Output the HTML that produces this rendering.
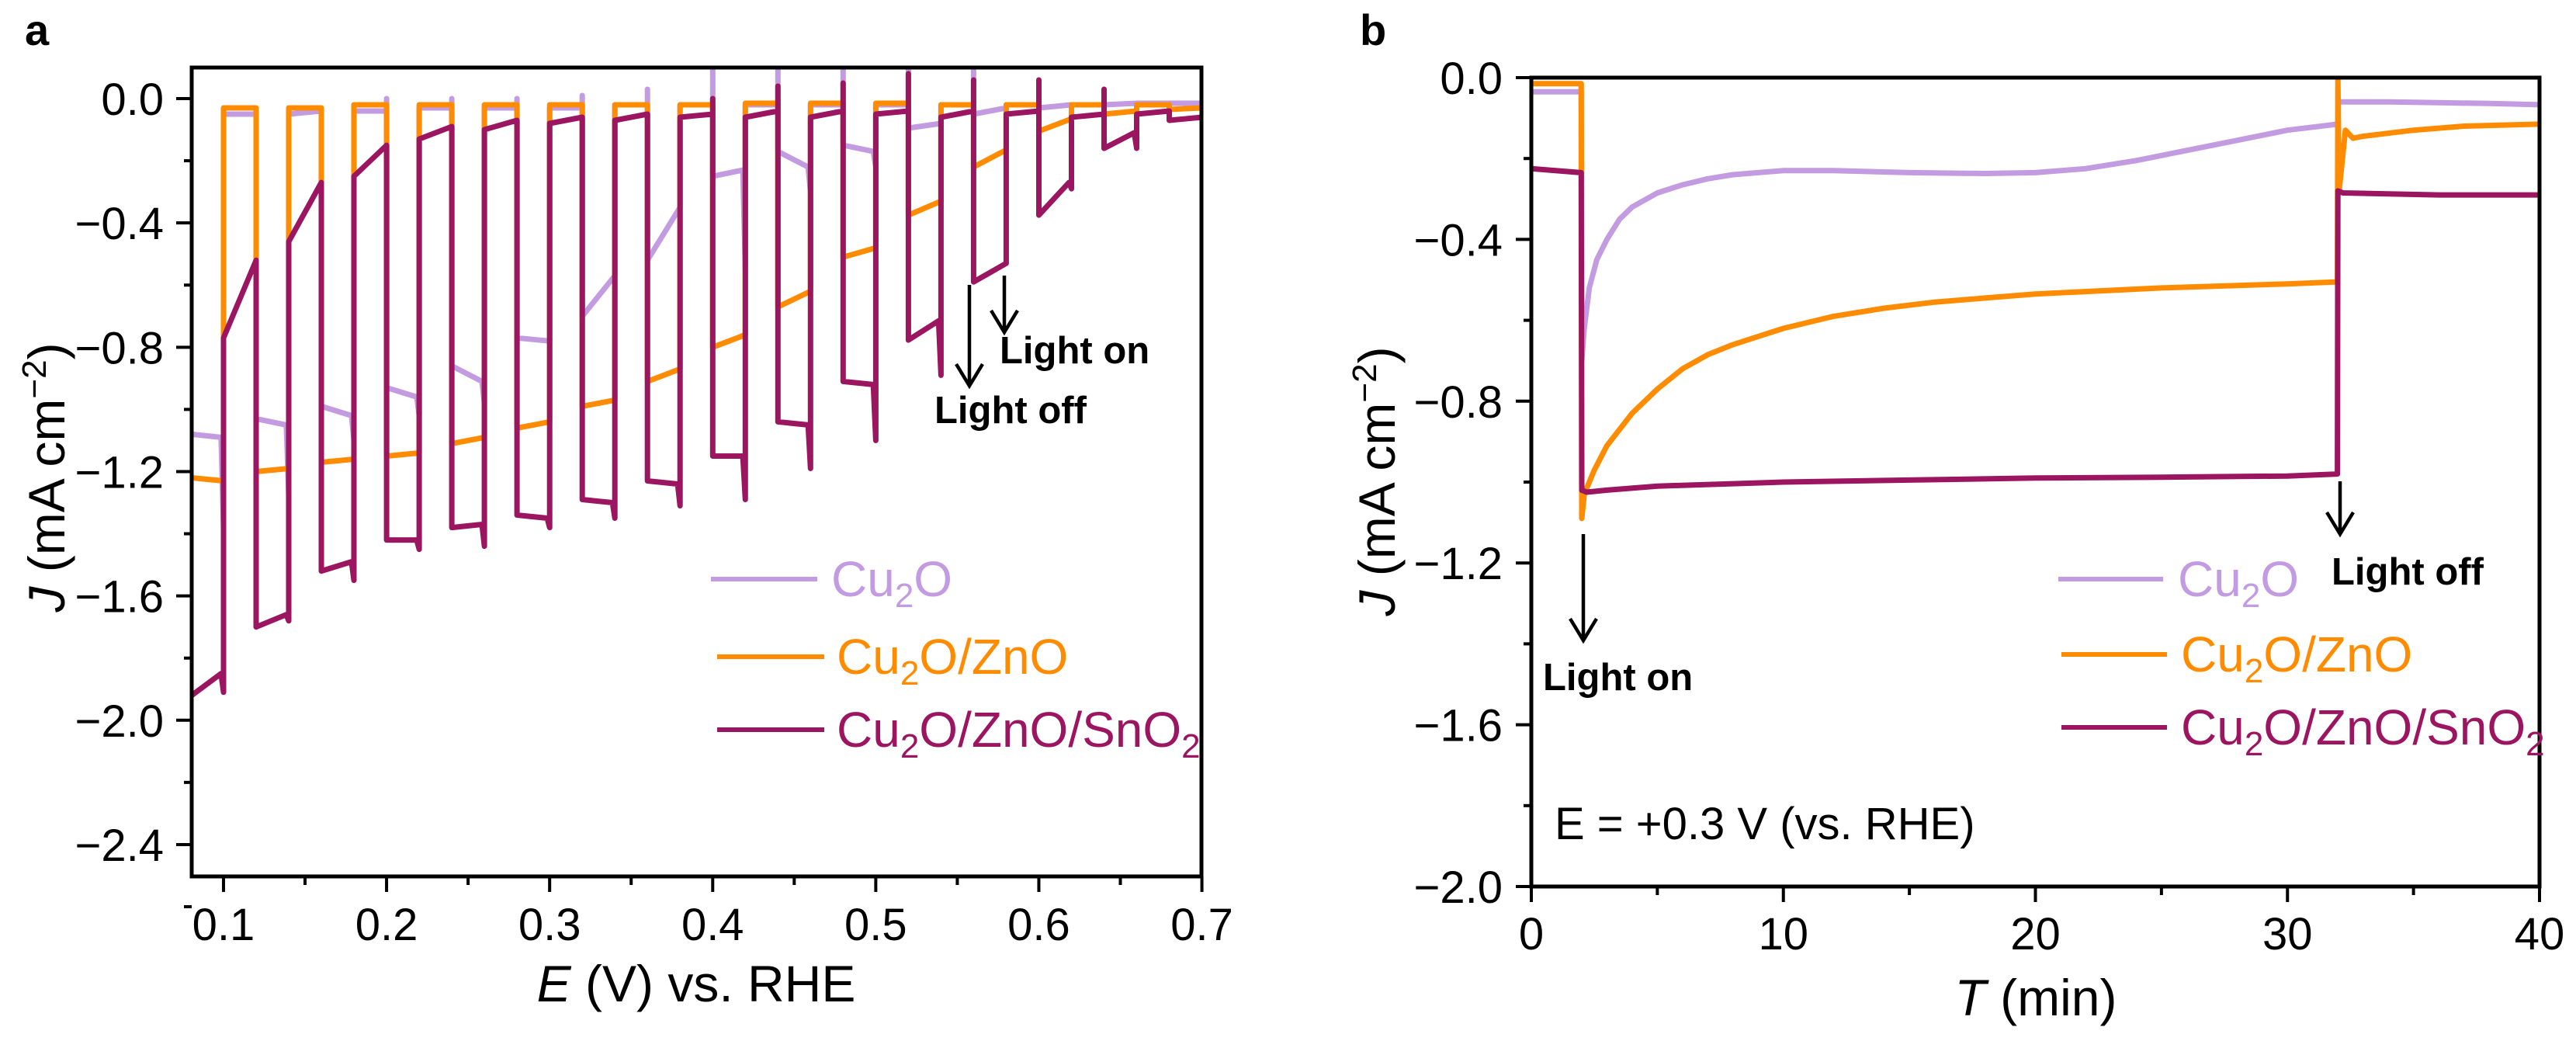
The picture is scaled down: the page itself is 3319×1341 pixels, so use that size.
<!DOCTYPE html>
<html><head><meta charset="utf-8">
<style>
html,body{margin:0;padding:0;background:#fff;}
svg{display:block;font-family:"Liberation Sans",Arial,sans-serif;}
</style></head>
<body>
<svg id="fig" width="3319" height="1341" viewBox="0 0 3319 1341" xmlns="http://www.w3.org/2000/svg">
  <text x="32" y="58" font-size="56" font-weight="bold">a</text>
  <text x="1752" y="58" font-size="56" font-weight="bold">b</text>
  <g id="pa"></g>
  <g id="pb"></g>
</svg>
<script>
// ---------- Panel a data (segments of 0.02 V from 0.08 V; even = light on, odd = dark) ----------
const segStartV = 0.08;
const segWidthV = 0.02;
const cu2oStart   = [-1.08,-0.05,-1.03,-0.05,-0.99,-0.04,-0.93,-0.03,-0.86,-0.03,-0.77,-0.03,-0.70,-0.02,-0.52,-0.02,-0.25,-0.02,-0.17,-0.02,-0.15,-0.02,-0.095,-0.02,-0.05,-0.02,-0.03,-0.02,-0.02,-0.015,-0.015];
const cu2oEnd     = [-1.09,-0.05,-1.05,-0.04,-1.02,-0.04,-0.96,-0.03,-0.91,-0.03,-0.78,-0.03,-0.57,-0.02,-0.35,-0.02,-0.23,-0.02,-0.22,-0.02,-0.17,-0.02,-0.08,-0.02,-0.03,-0.02,-0.02,-0.02,-0.015,-0.015,-0.015];
const cu2oSpike   = [null,null,null,null,null,null,0.0,null,0.0,null,0.0,null,0.01,null,0.03,null,0.1,null,0.1,null,0.1,null,0.1,null,0.09,null,0.0,null,null,null,null];
const cu2oDip     = [-1.38,null,-1.28,null,-1.1,null,-1.02,null,-0.98,null,null,null,null,null,null,null,-0.55,null,-0.3,null,-0.22,null,null,null,null,null,null,null,null,null,null];
const znoStart    = [-1.22,-0.03,-1.20,-0.03,-1.17,-0.02,-1.15,-0.02,-1.11,-0.02,-1.06,-0.02,-0.99,-0.02,-0.91,-0.02,-0.80,-0.015,-0.67,-0.015,-0.51,-0.015,-0.375,-0.02,-0.22,-0.02,-0.105,-0.02,-0.05,-0.02,-0.035];
const znoEnd      = [-1.23,-0.03,-1.19,-0.03,-1.16,-0.02,-1.14,-0.02,-1.09,-0.02,-1.04,-0.02,-0.97,-0.02,-0.87,-0.02,-0.76,-0.015,-0.62,-0.015,-0.48,-0.015,-0.33,-0.02,-0.165,-0.02,-0.065,-0.02,-0.04,-0.02,-0.03];
const snoStart    = [-1.92,-0.77,-1.70,-0.46,-1.52,-0.25,-1.42,-0.13,-1.38,-0.10,-1.34,-0.08,-1.29,-0.07,-1.23,-0.06,-1.15,-0.06,-1.04,-0.06,-0.91,-0.05,-0.777,-0.06,-0.59,-0.05,-0.375,-0.06,-0.16,-0.05,-0.07];
const snoEnd      = [-1.85,-0.52,-1.66,-0.27,-1.49,-0.15,-1.42,-0.09,-1.37,-0.07,-1.35,-0.06,-1.30,-0.05,-1.24,-0.05,-1.15,-0.04,-1.05,-0.04,-0.92,-0.04,-0.715,-0.04,-0.53,-0.04,-0.27,-0.05,-0.11,-0.04,-0.06];
const snoSpike    = [null,null,null,null,null,null,null,null,null,null,null,null,null,null,null,null,0.0,null,0.04,null,0.05,null,0.08,null,0.06,null,0.06,null,0.03,null,null];
const snoDip      = [-1.91,null,-1.68,null,-1.55,null,-1.45,null,-1.44,null,-1.38,null,-1.35,null,-1.31,null,-1.29,null,-1.19,null,-1.10,null,-0.89,null,null,null,-0.29,null,-0.16,null,null];
const aXTicks = [0.1,0.2,0.3,0.4,0.5,0.6,0.7];
const aXTickLabels = ["0.1","0.2","0.3","0.4","0.5","0.6","0.7"];
const aYTicks = [0.0,-0.4,-0.8,-1.2,-1.6,-2.0,-2.4];
const aYTickLabels = ["0.0","\u22120.4","\u22120.8","\u22121.2","\u22121.6","\u22122.0","\u22122.4"];

// ---------- Panel b data ----------
const bCu2oT = [0,1.98,2.0,2.1,2.3,2.6,3,3.5,4,5,6,7,8,10,12,15,18,20,22,24,26,28,30,32,32.02,32.2,34,36,38,40];
const bCu2oJ = [-0.035,-0.035,-0.7,-0.62,-0.52,-0.45,-0.4,-0.35,-0.32,-0.285,-0.265,-0.25,-0.24,-0.23,-0.23,-0.235,-0.237,-0.235,-0.225,-0.205,-0.18,-0.155,-0.13,-0.115,-0.06,-0.06,-0.06,-0.062,-0.064,-0.067];
const bZnoT = [0,1.98,2.0,2.1,2.5,3,4,5,6,7,8,10,12,14,16,18,20,25,30,31.98,32.0,32.05,32.3,32.6,33,35,37,40];
const bZnoJ = [-0.015,-0.015,-1.09,-1.03,-0.97,-0.91,-0.83,-0.77,-0.72,-0.685,-0.66,-0.62,-0.59,-0.57,-0.555,-0.545,-0.535,-0.52,-0.51,-0.505,0.0,-0.28,-0.13,-0.15,-0.145,-0.13,-0.12,-0.115];
const bSnoT = [0,1.98,2.0,2.2,3,5,10,15,20,25,30,31.98,32.0,32.2,36,40];
const bSnoJ = [-0.225,-0.235,-1.02,-1.025,-1.02,-1.01,-1.0,-0.995,-0.99,-0.988,-0.985,-0.98,-0.28,-0.285,-0.29,-0.29];
const bXTicks = [0,10,20,30,40];
const bXTickLabels = ["0","10","20","30","40"];
const bYTicks = [0.0,-0.4,-0.8,-1.2,-1.6,-2.0];
const bYTickLabels = ["0.0","\u22120.4","\u22120.8","\u22121.2","\u22121.6","\u22122.0"];

const NS = "http://www.w3.org/2000/svg";
const C_CU2O = "#c29be0", C_ZNO = "#ff8c00", C_SNO = "#9b1560";
const LW = 7;

function mk(parent, tag, attrs, txt){
  const e = document.createElementNS(NS, tag);
  for (const k in attrs) e.setAttribute(k, attrs[k]);
  if (txt !== undefined) e.textContent = txt;
  parent.appendChild(e);
  return e;
}

// axis functions
const ax = v => 247 + (v - 0.0805) * 2101;
const ay = v => 127 - v * 400.4;
const bx = v => 1973 + v * 32.475;
const by = v => 100 - v * 521;

function segPoints(st, en, sp, dp){
  const pts = [];
  for (let i = 0; i < st.length; i++){
    const x0 = segStartV + i*segWidthV, x1 = x0 + segWidthV;
    const xa = Math.max(x0, 0.0805);
    if (sp[i] !== null) pts.push([ax(xa), ay(sp[i])]);
    pts.push([ax(xa), ay(st[i])]);
    if (dp[i] !== null){
      pts.push([ax(x1 - 0.0015), ay(en[i])]);
      pts.push([ax(x1), ay(dp[i])]);
    } else {
      pts.push([ax(x1), ay(en[i])]);
    }
  }
  return pts.map(p => p[0].toFixed(1)+","+p[1].toFixed(1)).join(" ");
}

// ---------------- Panel A ----------------
const pa = document.getElementById("pa");
const clipA = mk(pa, "clipPath", {id:"clipA"});
mk(clipA, "rect", {x:247, y:87, width:1301, height:1042});
const dataA = mk(pa, "g", {"clip-path":"url(#clipA)"});
const la1 = mk(dataA, "polyline", {points:segPoints(cu2oStart,cu2oEnd,cu2oSpike,cu2oDip), fill:"none", stroke:C_CU2O, "stroke-width":LW, "stroke-linejoin":"round", "stroke-linecap":"round"});


const la2 = mk(dataA, "polyline", {points:segPoints(znoStart,znoEnd,new Array(31).fill(null),new Array(31).fill(null)), fill:"none", stroke:C_ZNO, "stroke-width":LW, "stroke-linejoin":"round", "stroke-linecap":"round"});


const la3 = mk(dataA, "polyline", {points:segPoints(snoStart,snoEnd,snoSpike,snoDip), fill:"none", stroke:C_SNO, "stroke-width":LW, "stroke-linejoin":"round", "stroke-linecap":"round"});



const frameA = mk(pa, "rect", {x:247, y:87, width:1301, height:1042, fill:"none", stroke:"#000", "stroke-width":5});


aXTicks.forEach((v,i)=>{
  const t = mk(pa, "line", {x1:ax(v), x2:ax(v), y1:1129, y2:1149, stroke:"#000", "stroke-width":4});
  
  
  const l = mk(pa, "text", {x:ax(v), y:1211, "font-size":58, "text-anchor":"middle"}, aXTickLabels[i]);
  
  
  if (v < 0.7){
    const m = mk(pa, "line", {x1:ax(v+0.05), x2:ax(v+0.05), y1:1129, y2:1140, stroke:"#000", "stroke-width":4});
    
    
  }
});
aYTicks.forEach((v,i)=>{
  const t = mk(pa, "line", {x1:227, x2:247, y1:ay(v), y2:ay(v), stroke:"#000", "stroke-width":4});
  
  
  const l = mk(pa, "text", {x:211, y:ay(v)+21, "font-size":58, "text-anchor":"end"}, aYTickLabels[i]);
  
  
  const m = mk(pa, "line", {x1:237, x2:247, y1:ay(v-0.2), y2:ay(v-0.2), stroke:"#000", "stroke-width":4});
  
  
});
const xta = mk(pa, "text", {x:897, y:1290, "font-size":66, "text-anchor":"middle"});


xta.innerHTML = '<tspan font-style="italic">E</tspan> (V) vs. RHE';
const yta = mk(pa, "text", {transform:"translate(83,615) rotate(-90)", "font-size":66, "text-anchor":"middle"});


yta.innerHTML = '<tspan font-style="italic">J</tspan> (mA cm<tspan dy="-24" font-size="44">\u22122</tspan><tspan dy="24">)</tspan>';

function arrow(g, x, y1, y2, name){
  const a = mk(g, "g", {});
  
  
  mk(a, "line", {x1:x, x2:x, y1:y1, y2:y2, stroke:"#000", "stroke-width":4.5});
  mk(a, "polyline", {points:`${x-17},${y2-28} ${x},${y2} ${x+17},${y2-28}`, fill:"none", stroke:"#000", "stroke-width":4.5});
}
arrow(pa, 1249, 367, 497, "light-off-arrow-a");
arrow(pa, 1294, 355, 428, "light-on-arrow-a");
const lona = mk(pa, "text", {x:1288, y:468, "font-size":49, "font-weight":"bold"}, "Light on");


const lofa = mk(pa, "text", {x:1204, y:545, "font-size":49, "font-weight":"bold"}, "Light off");



function legend(g, x1, x2, tx, y, color, main, sub, tail, tailSub, name){
  const e = mk(g, "g", {});
  
  
  mk(e, "line", {x1:x1, x2:x2, y1:y, y2:y, stroke:color, "stroke-width":6});
  const t = mk(e, "text", {x:tx, y:y+22, "font-size":64, fill:color});
  let h = main + '<tspan dy="14" font-size="44">' + sub + '</tspan><tspan dy="-14">' + tail + '</tspan>';
  if (tailSub) h += '<tspan dy="14" font-size="44">' + tailSub + '</tspan>';
  t.innerHTML = h;
}
legend(pa, 916, 1053, 1071, 746, C_CU2O, "Cu", "2", "O", "", "legend-cu2o-a");
legend(pa, 924, 1062, 1078, 846, C_ZNO, "Cu", "2", "O/ZnO", "", "legend-cu2o-zno-a");
legend(pa, 924, 1062, 1078, 940, C_SNO, "Cu", "2", "O/ZnO/SnO", "2", "legend-cu2o-zno-sno2-a");

// ---------------- Panel B ----------------
const pb = document.getElementById("pb");
const clipB = mk(pb, "clipPath", {id:"clipB"});
mk(clipB, "rect", {x:1973, y:100, width:1299, height:1042});
const dataB = mk(pb, "g", {"clip-path":"url(#clipB)"});
function pts(ts, js){ return ts.map((t,i)=>bx(t).toFixed(1)+","+by(js[i]).toFixed(1)).join(" "); }
const lb1 = mk(dataB, "polyline", {points:pts(bCu2oT,bCu2oJ), fill:"none", stroke:C_CU2O, "stroke-width":LW, "stroke-linejoin":"round"});


const lb2 = mk(dataB, "polyline", {points:pts(bZnoT,bZnoJ), fill:"none", stroke:C_ZNO, "stroke-width":LW, "stroke-linejoin":"round"});


const lb3 = mk(dataB, "polyline", {points:pts(bSnoT,bSnoJ), fill:"none", stroke:C_SNO, "stroke-width":LW, "stroke-linejoin":"round"});



const frameB = mk(pb, "rect", {x:1973, y:100, width:1299, height:1042, fill:"none", stroke:"#000", "stroke-width":5});


bXTicks.forEach((v,i)=>{
  const t = mk(pb, "line", {x1:bx(v), x2:bx(v), y1:1142, y2:1162, stroke:"#000", "stroke-width":4});
  
  
  const l = mk(pb, "text", {x:bx(v), y:1223, "font-size":58, "text-anchor":"middle"}, bXTickLabels[i]);
  
  
  if (v < 40){
    const m = mk(pb, "line", {x1:bx(v+5), x2:bx(v+5), y1:1142, y2:1153, stroke:"#000", "stroke-width":4});
    
    
  }
});
bYTicks.forEach((v,i)=>{
  const t = mk(pb, "line", {x1:1953, x2:1973, y1:by(v), y2:by(v), stroke:"#000", "stroke-width":4});
  
  
  const l = mk(pb, "text", {x:1936, y:by(v)+21, "font-size":58, "text-anchor":"end"}, bYTickLabels[i]);
  
  
  if (v > -2.0){
    const m = mk(pb, "line", {x1:1963, x2:1973, y1:by(v-0.2), y2:by(v-0.2), stroke:"#000", "stroke-width":4});
    
    
  }
});
const xtb = mk(pb, "text", {x:2623, y:1308, "font-size":66, "text-anchor":"middle"});


xtb.innerHTML = '<tspan font-style="italic">T</tspan> (min)';
const ytb = mk(pb, "text", {transform:"translate(1797,620) rotate(-90)", "font-size":66, "text-anchor":"middle"});


ytb.innerHTML = '<tspan font-style="italic">J</tspan> (mA cm<tspan dy="-24" font-size="44">\u22122</tspan><tspan dy="24">)</tspan>';

arrow(pb, 2040, 688, 825, "light-on-arrow-b");
arrow(pb, 3015, 620, 688, "light-off-arrow-b");
const lonb = mk(pb, "text", {x:1988, y:889, "font-size":49, "font-weight":"bold"}, "Light on");


const lofb = mk(pb, "text", {x:3004, y:753, "font-size":49, "font-weight":"bold"}, "Light off");


const cond = mk(pb, "text", {x:2003, y:1081, "font-size":58}, "E = +0.3 V (vs. RHE)");



legend(pb, 2652, 2787, 2806, 746, C_CU2O, "Cu", "2", "O", "", "legend-cu2o-b");
legend(pb, 2656, 2792, 2810, 843, C_ZNO, "Cu", "2", "O/ZnO", "", "legend-cu2o-zno-b");
legend(pb, 2656, 2792, 2810, 937, C_SNO, "Cu", "2", "O/ZnO/SnO", "2", "legend-cu2o-zno-sno2-b");
</script>
</body></html>
